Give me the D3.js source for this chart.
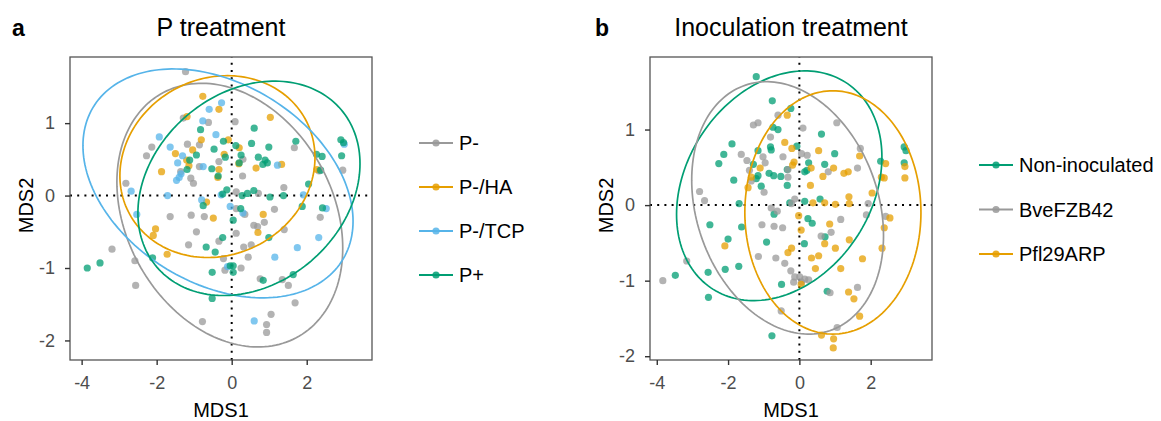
<!DOCTYPE html>
<html>
<head>
<meta charset="utf-8">
<script src="https://cdn.jsdelivr.net/npm/d3@7"></script>
<style>
  body { margin: 0; background: #fff; }
  svg { display: block; font-family: "Liberation Sans", Arial, sans-serif; }
</style>
</head>
<body>
<svg id="chart" width="1161" height="421"></svg>
<script>
// ---- data (MDS units) ----
const xTicks = [-4, -2, 0, 2];
const yTicks = [-2, -1, 0, 1];

// panel a: P treatment
const pGroups = ["P-", "P-/HA", "P-/TCP", "P+"];
const pMinus = [[-1.23,1.71],[-1.29,1.07],[-0.62,1.01],[0.09,1.02],[-2.13,0.67],[-2.27,0.55],[-1.18,0.71],[-0.86,0.70],
  [1.67,0.66],[-0.34,0.47],[0.30,0.50],[-0.86,0.40],[-1.36,0.33],[2.96,0.35],[2.33,0.34],[-1.09,0.24],[0.29,0.27],
  [-2.82,0.17],[-1.02,0.17],[1.39,0.11],[0.12,0.05],[0.71,0.03],[0.12,-0.18],[-1.64,-0.29],[-1.08,-0.27],[-0.73,-0.29],
  [0.35,-0.26],[1.14,-0.19],[2.36,-0.30],[0.59,-0.41],[0.69,-0.43],[0.87,-0.37],[-0.94,-0.50],[0.12,-0.52],[1.40,-0.47],
  [-0.34,-0.63],[-3.19,-0.74],[-1.15,-0.68],[0.32,-0.71],[0.52,-0.68],[0.44,-0.85],[-0.22,-0.87],[-2.58,-0.90],
  [-0.18,-1.03],[0.25,-1.00],[0.76,-1.15],[1.35,-1.16],[1.51,-1.24],[-2.56,-1.24],[1.69,-1.48],[1.05,-1.64],
  [0.93,-1.78],[0.93,-1.89],[-0.78,-1.74]];
const pMinusHA = [[-0.77,1.37],[-0.34,1.19],[-1.19,1.09],[1.03,1.08],[-0.81,0.77],[-0.09,0.77],[0.20,0.66],[-1.04,0.63],
  [-1.50,0.58],[-0.20,0.57],[-1.20,0.49],[0.19,0.44],[1.33,0.43],[0.65,0.38],[-0.34,0.36],[-1.87,0.33],[-1.14,0.41],
  [2.27,0.36],[-0.37,0.25],[-0.67,-0.09],[-0.49,-0.31],[0.84,-0.26],[-2.03,-0.46],[-2.09,-0.55],[0.70,-0.51],[-1.72,-0.81]];
const pMinusTCP = [[-0.27,1.28],[-0.60,1.19],[-0.77,1.03],[-0.42,0.84],[-1.93,0.81],[-1.64,0.67],[3.00,0.71],[-1.31,0.55],
  [-1.44,0.45],[1.22,0.42],[-0.76,0.40],[-1.35,0.30],[-1.40,0.25],[-1.47,0.21],[-2.68,0.06],[1.91,0.01],[-1.71,0.00],
  [-0.28,0.01],[-0.80,-0.06],[-0.04,-0.15],[0.30,-0.24],[-2.53,-0.26],[2.52,-0.18],[2.32,-0.58],[1.75,-0.72],
  [1.15,-0.85],[-0.11,-0.98],[0.60,-1.73]];
const pPlus = [[-0.83,0.91],[0.60,0.93],[-0.22,0.75],[0.11,0.69],[0.53,0.72],[0.99,0.67],[1.71,0.75],[2.91,0.77],
  [2.98,0.73],[-0.47,0.64],[-0.94,0.56],[-0.17,0.53],[0.25,0.56],[0.71,0.53],[2.26,0.57],[2.41,0.54],[2.93,0.55],
  [-1.12,0.49],[0.20,0.45],[0.89,0.49],[0.95,0.45],[0.83,0.43],[-0.53,0.37],[-1.19,0.36],[-0.36,0.27],[2.37,0.35],
  [2.05,0.16],[-0.13,0.08],[0.59,0.07],[0.42,0.03],[0.28,0.00],[1.02,-0.02],[1.38,0.00],[-0.24,0.02],[-0.76,-0.14],
  [0.24,-0.18],[1.88,-0.15],[2.42,-0.17],[0.04,-0.34],[0.99,-0.58],[-0.24,-0.58],[-0.68,-0.71],[-0.44,-0.78],
  [-2.11,-0.86],[-3.85,-1.00],[-3.51,-0.93],[-0.04,-0.97],[0.04,-0.97],[-0.52,-1.06],[0.04,-1.06],[1.64,-1.09],
  [0.84,-1.17],[-0.52,-1.42]];
// ellipse: centre, half extent in x and y, correlation
const pEllipseCx = [-0.05, -0.38, -0.365, 0.46];
const pEllipseCy = [-0.27, 0.40, 0.168, 0.10];
const pEllipseHx = [3.01, 2.60, 3.60, 2.96];
const pEllipseHy = [1.82, 1.255, 1.58, 1.48];
const pEllipseRho = [-0.25, 0.10, -0.33, 0.23];

// panel b: inoculation treatment
const inocGroups = ["Non-inoculated", "BveFZB42", "Pfl29ARP"];
const nonInoc = [[-1.21,1.70],[-0.76,1.38],[-0.24,1.28],[-0.74,1.03],[-0.60,1.00],[0.62,0.94],[-1.89,0.81],[-0.07,0.78],
  [-0.81,0.77],[-0.79,0.73],[-2.12,0.67],[-1.16,0.72],[0.99,0.68],[-2.26,0.55],[-1.29,0.54],[0.26,0.56],[0.71,0.54],
  [0.21,0.46],[0.15,0.44],[2.28,0.58],[2.94,0.77],[2.99,0.72],[2.94,0.56],[-0.85,0.42],[-0.72,0.39],[-0.52,0.38],
  [-0.34,0.47],[-1.16,0.39],[-1.21,0.35],[-1.84,0.33],[-1.07,0.25],[-0.34,0.26],[-1.69,0.02],[0.58,0.08],[0.15,0.05],
  [-0.27,0.03],[-0.71,-0.12],[-2.51,-0.26],[-1.62,-0.29],[0.24,-0.18],[0.36,-0.24],[-2.00,-0.45],[-0.92,-0.49],
  [0.14,-0.51],[0.72,-0.42],[-3.48,-0.93],[-2.56,-0.89],[-2.08,-0.85],[-1.70,-0.81],[-0.50,-1.05],[0.78,-1.14],
  [-2.55,-1.22],[-0.77,-1.73]];
const bveFZB42 = [[-0.60,1.19],[-1.29,1.06],[-1.16,1.09],[0.10,1.02],[1.05,1.09],[-0.81,0.90],[-1.63,0.67],[-1.47,0.59],
  [-1.02,0.64],[-0.46,0.64],[-0.32,0.47],[0.06,0.68],[0.22,0.66],[-0.96,0.56],[-1.40,0.46],[-1.35,0.32],[-0.32,0.37],
  [0.81,0.44],[1.63,0.49],[1.71,0.75],[-2.80,0.18],[-2.66,0.06],[-0.99,0.17],[-0.13,0.08],[1.93,0.02],[-0.22,0.02],
  [-0.79,-0.04],[-0.62,-0.08],[-1.05,-0.26],[-0.71,-0.28],[-0.47,-0.30],[1.16,-0.19],[1.88,-0.13],[2.42,-0.15],
  [0.89,-0.36],[0.61,-0.41],[-3.16,-0.74],[-3.83,-1.00],[-1.15,-0.68],[-0.66,-0.70],[-0.41,-0.77],[-0.24,-0.87],
  [-0.13,-0.95],[0.01,-0.95],[0.15,-0.98],[0.26,-0.99],[-0.16,-1.02],[0.06,-1.02],[0.86,-1.16],[1.63,-1.09],
  [-0.51,-1.40],[1.06,-1.62]];
const pfl29ARP = [[-0.34,1.19],[-0.41,0.83],[-0.21,0.75],[0.54,0.72],[1.69,0.65],[-0.15,0.57],[-0.19,0.53],[0.33,0.49],
  [0.66,0.38],[0.96,0.49],[1.25,0.42],[1.37,0.44],[-1.10,0.49],[-1.35,0.37],[0.31,0.26],[2.42,0.55],[2.30,0.37],
  [2.38,0.36],[2.96,0.51],[2.96,0.36],[1.39,0.11],[2.04,0.16],[-1.44,0.23],[0.38,0.03],[0.71,0.03],[1.01,0.01],
  [1.40,0.02],[-0.02,-0.14],[0.85,-0.25],[2.54,-0.17],[2.38,-0.30],[0.05,-0.33],[1.40,-0.46],[-2.09,-0.54],
  [0.71,-0.51],[-0.22,-0.57],[-0.32,-0.63],[1.01,-0.57],[0.54,-0.67],[0.34,-0.70],[2.32,-0.57],[1.77,-0.71],
  [0.45,-0.84],[1.16,-0.84],[0.05,-1.05],[1.38,-1.15],[1.53,-1.24],[1.69,-1.47],[0.62,-1.72],[0.96,-1.77],[0.95,-1.89]];
const inocEllipseCx = [-0.565, -0.33, 0.94];
const inocEllipseCy = [0.256, -0.037, -0.097];
const inocEllipseHx = [2.88, 2.69, 2.47];
const inocEllipseHy = [1.52, 1.67, 1.61];
const inocEllipseRho = [0.25, -0.22, 0.0];

// ---- style ----
const GRAY = "#999999", ORANGE = "#E69F00", BLUE = "#56B4E9", GREEN = "#009E73";
const FONT = "'Liberation Sans', Arial, sans-serif";

const svg = d3.select("#chart");

function drawPanel(opt) {
    const x = d3.scaleLinear().domain(opt.xDomain).range([opt.left, opt.right]);
    const y = d3.scaleLinear().domain(opt.yDomain).range([opt.bottom, opt.top]);
    const g = svg.append("g");

    // clip for the panel
    const clipId = "clip-" + opt.tag;
    g.append("clipPath").attr("id", clipId)
        .append("rect")
        .attr("x", opt.left).attr("y", opt.top)
        .attr("width", opt.right - opt.left).attr("height", opt.bottom - opt.top);
    const plot = g.append("g").attr("clip-path", "url(#" + clipId + ")");

    // reference lines at 0
    plot.append("line")
        .attr("x1", opt.left).attr("x2", opt.right)
        .attr("y1", y(0)).attr("y2", y(0))
        .attr("stroke", "#000").attr("stroke-width", 2)
        .attr("stroke-dasharray", "2,5.2");
    plot.append("line")
        .attr("x1", x(0)).attr("x2", x(0))
        .attr("y1", opt.bottom).attr("y2", opt.top)
        .attr("stroke", "#000").attr("stroke-width", 2)
        .attr("stroke-dasharray", "2,5.2");

    // points
    opt.series.forEach(function (s, i) {
        plot.append("g")
            .selectAll("circle")
            .data(s)
            .enter()
            .append("circle")
            .attr("cx", d => x(d[0]))
            .attr("cy", d => y(d[1]))
            .attr("r", 3.6)
            .attr("fill", opt.colors[i])
            .attr("fill-opacity", 0.75);
    });

    // ellipses
    const line = d3.line().x(d => x(d[0])).y(d => y(d[1])).curve(d3.curveLinearClosed);
    opt.ellipses.cx.forEach(function (cx, i) {
        const cy = opt.ellipses.cy[i], hx = opt.ellipses.hx[i], hy = opt.ellipses.hy[i];
        const delta = Math.acos(opt.ellipses.rho[i]);
        const pts = d3.range(0, 2 * Math.PI, Math.PI / 90).map(function (t) {
            return [cx + hx * Math.cos(t), cy + hy * Math.cos(t - delta)];
        });
        plot.append("path")
            .attr("d", line(pts))
            .attr("fill", "none")
            .attr("stroke", opt.colors[i])
            .attr("stroke-width", 1.7);
    });

    // panel border
    g.append("rect")
        .attr("x", opt.left).attr("y", opt.top)
        .attr("width", opt.right - opt.left).attr("height", opt.bottom - opt.top)
        .attr("fill", "none").attr("stroke", "#555").attr("stroke-width", 1.3);

    // axes
    const xAxis = g.append("g")
        .attr("transform", "translate(0," + opt.bottom + ")")
        .call(d3.axisBottom(x).tickValues(xTicks).tickSize(5).tickPadding(11).tickFormat(d3.format("d")));
    const yAxis = g.append("g")
        .attr("transform", "translate(" + opt.left + ",0)")
        .call(d3.axisLeft(y).tickValues(yTicks).tickSize(5).tickPadding(10).tickFormat(d3.format("d")));
    [xAxis, yAxis].forEach(function (a) {
        a.select(".domain").remove();
        a.selectAll(".tick line").attr("stroke", "#333").attr("stroke-width", 1.4);
        a.selectAll(".tick text")
            .attr("fill", "#4d4d4d")
            .style("font-size", "18px")
            .style("font-family", FONT)
            .text(d => d < 0 ? "-" + Math.abs(d) : d);
    });

    // axis titles
    g.append("text")
        .attr("x", (opt.left + opt.right) / 2)
        .attr("y", 417)
        .attr("text-anchor", "middle")
        .style("font-size", "20px")
        .style("font-family", FONT)
        .text("MDS1");
    g.append("text")
        .attr("transform", "rotate(-90)")
        .attr("x", -(opt.top + opt.bottom) / 2 + 3)
        .attr("y", opt.left - 37)
        .attr("text-anchor", "middle")
        .style("font-size", "20px")
        .style("font-family", FONT)
        .text("MDS2");

    // title and panel letter
    g.append("text")
        .attr("x", (opt.left + opt.right) / 2)
        .attr("y", 36)
        .attr("text-anchor", "middle")
        .style("font-size", "25px")
        .style("font-family", FONT)
        .text(opt.title);
    g.append("text")
        .attr("x", opt.letterX)
        .attr("y", 36)
        .style("font-size", "23px")
        .style("font-weight", "bold")
        .style("font-family", FONT)
        .text(opt.letter);

    // legend
    const legend = g.append("g");
    opt.groups.forEach(function (name, i) {
        const ly = opt.legendY + i * opt.legendStep;
        legend.append("line")
            .attr("x1", opt.legendX).attr("x2", opt.legendX + 34)
            .attr("y1", ly).attr("y2", ly)
            .attr("stroke", opt.colors[i]).attr("stroke-width", 2.2);
        legend.append("circle")
            .attr("cx", opt.legendX + 17).attr("cy", ly).attr("r", 3.6)
            .attr("fill", opt.colors[i]).attr("fill-opacity", 0.85);
        legend.append("text")
            .attr("x", opt.legendX + 40).attr("y", ly)
            .attr("dy", "0.35em")
            .style("font-size", "20px")
            .style("font-family", FONT)
            .text(name);
    });
}

drawPanel({
    tag: "a", letter: "a", letterX: 12, title: "P treatment",
    left: 70, right: 372, top: 57, bottom: 360,
    xDomain: [-4.31, 3.74], yDomain: [-2.27, 1.913],
    groups: pGroups,
    series: [pMinus, pMinusHA, pMinusTCP, pPlus],
    colors: [GRAY, ORANGE, BLUE, GREEN],
    ellipses: {cx: pEllipseCx, cy: pEllipseCy, hx: pEllipseHx, hy: pEllipseHy, rho: pEllipseRho},
    legendX: 419, legendY: 143, legendStep: 44
});

drawPanel({
    tag: "b", letter: "b", letterX: 595, title: "Inoculation treatment",
    left: 650, right: 932, top: 57, bottom: 360,
    xDomain: [-4.19, 3.72], yDomain: [-2.05, 1.96],
    groups: inocGroups,
    series: [nonInoc, bveFZB42, pfl29ARP],
    colors: [GREEN, GRAY, ORANGE],
    ellipses: {cx: inocEllipseCx, cy: inocEllipseCy, hx: inocEllipseHx, hy: inocEllipseHy, rho: inocEllipseRho},
    legendX: 979, legendY: 165, legendStep: 44.5
});
</script>
</body>
</html>
